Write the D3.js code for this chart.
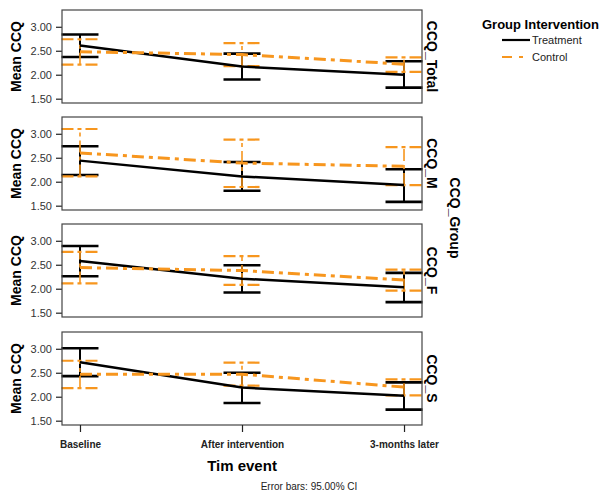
<!DOCTYPE html>
<html>
<head>
<meta charset="UTF-8">
<script src="https://cdn.jsdelivr.net/npm/d3@7.8.5/dist/d3.min.js"></script>
<style>
  body { margin: 0; background: #fff; }
  text { font-family: Arial, 'Liberation Sans', sans-serif; }
</style>
</head>
<body>
<svg id="chart" width="605" height="493"></svg>
<script>
// time points and facets
const times = ["Baseline", "After intervention", "3-months later"];
const facets = ["CCQ_Total", "CCQ_M", "CCQ_F", "CCQ_S"];
const groups = ["Treatment", "Control"];
const yTicks = [1.5, 2.0, 2.5, 3.0];

// means and 95% CI per facet (rows) and time (cols)
const treatMean = [[2.61, 2.17, 2.00], [2.44, 2.11, 1.93], [2.58, 2.21, 2.03], [2.72, 2.19, 2.02]];
const treatLow  = [[2.37, 1.90, 1.73], [2.14, 1.81, 1.58], [2.26, 1.92, 1.72], [2.43, 1.87, 1.73]];
const treatHigh = [[2.84, 2.44, 2.28], [2.74, 2.41, 2.26], [2.89, 2.49, 2.33], [3.01, 2.50, 2.30]];
const ctrlMean  = [[2.48, 2.42, 2.22], [2.60, 2.39, 2.32], [2.44, 2.38, 2.18], [2.47, 2.47, 2.20]];
const ctrlLow   = [[2.21, 2.18, 2.06], [2.11, 1.89, 1.93], [2.11, 2.08, 1.96], [2.18, 2.23, 2.03]];
const ctrlHigh  = [[2.74, 2.66, 2.36], [3.10, 2.88, 2.72], [2.77, 2.68, 2.40], [2.75, 2.71, 2.36]];

const svg = d3.select('#chart');
const left = 62, right = 422;
const panelTops = [10, 117, 224, 332];
const panelH = 93;

const x = d3.scalePoint().domain(times).range([left, right]).padding(0.111);

const styles = {
  Treatment: { color: '#000', width: 2.5, dash: null, barW: 2, barDash: null },
  Control: { color: '#f7961e', width: 3, dash: '12,5,4,5', barW: 1.6, barDash: '12,4,4,4' }
};
const capHalf = 18.5;

facets.forEach((f, i) => {
  const top = panelTops[i];
  const y = d3.scaleLinear().domain([1.41, 3.35]).range([top + panelH, top]);
  const g = svg.append('g');

  // y axis
  const ya = g.append('g').attr('transform', `translate(${left},0)`)
    .call(d3.axisLeft(y).tickValues(yTicks).tickFormat(d3.format('.2f')).tickSize(6));
  ya.select('.domain').remove();
  ya.selectAll('line').attr('stroke', '#222').attr('stroke-width', 1.2);
  ya.selectAll('text').attr('font-size', 11).attr('fill', '#333').attr('dx', -1);

  const series = [
    { name: 'Treatment', mean: treatMean[i], lo: treatLow[i], hi: treatHigh[i] },
    { name: 'Control', mean: ctrlMean[i], lo: ctrlLow[i], hi: ctrlHigh[i] }
  ];

  // error bars first (treatment beneath control)
  series.forEach(s => {
    const st = styles[s.name];
    times.forEach((t, j) => {
      const cx = x(t);
      const bar = g.append('g').attr('stroke', st.color).attr('stroke-width', st.barW)
        .attr('stroke-dasharray', st.barDash).attr('fill', 'none');
      bar.append('line').attr('x1', cx).attr('x2', cx).attr('y1', y(s.lo[j])).attr('y2', y(s.hi[j]));
      [s.lo[j], s.hi[j]].forEach(v => {
        bar.append('line').attr('x1', cx - capHalf).attr('x2', cx + capHalf)
          .attr('y1', y(v)).attr('y2', y(v)).attr('stroke-width', s.name === 'Treatment' ? 2.6 : 2.2);
      });
    });
  });

  const line = d3.line().x((d, j) => x(times[j])).y(d => y(d));
  series.forEach(s => {
    const st = styles[s.name];
    g.append('path').datum(s.mean).attr('d', line).attr('fill', 'none')
      .attr('stroke', st.color).attr('stroke-width', st.width).attr('stroke-dasharray', st.dash);
  });

  // frame
  g.append('rect').attr('x', left).attr('y', top).attr('width', right - left).attr('height', panelH)
    .attr('fill', 'none').attr('stroke', '#444').attr('stroke-width', 1.2);

  // left label
  g.append('text').attr('transform', `translate(21,${top + panelH / 2}) rotate(-90)`)
    .attr('text-anchor', 'middle').attr('font-size', 14).attr('font-weight', 'bold').text('Mean CCQ');

  // facet label on right
  g.append('text').attr('transform', `translate(427,${top + panelH / 2}) rotate(90)`)
    .attr('text-anchor', 'middle').attr('font-size', 14).attr('font-weight', 'bold').text(f);
});

// x axis under bottom panel
const xa = svg.append('g').attr('transform', `translate(0,${panelTops[3] + panelH})`)
  .call(d3.axisBottom(x).tickSize(7));
xa.select('.domain').remove();
xa.selectAll('line').attr('stroke', '#222').attr('stroke-width', 1.2);
xa.selectAll('text').attr('font-size', 10).attr('font-weight', 'bold').attr('fill', '#222').attr('dy', '1.3em');

svg.append('text').attr('x', 242).attr('y', 471).attr('text-anchor', 'middle')
  .attr('font-size', 15).attr('font-weight', 'bold').text('Tim event');
svg.append('text').attr('x', 309).attr('y', 490).attr('text-anchor', 'middle')
  .attr('font-size', 10).attr('fill', '#222').text('Error bars: 95.00% CI');

// outer facet title
svg.append('text').attr('transform', `translate(450,218) rotate(90)`)
  .attr('text-anchor', 'middle').attr('font-size', 14).attr('font-weight', 'bold').text('CCQ_Group');

// legend
const lg = svg.append('g');
lg.append('text').attr('x', 482).attr('y', 29).attr('font-size', 13).attr('font-weight', 'bold').text('Group Intervention');
groups.forEach((gname, k) => {
  const st = styles[gname];
  const ly = 40 + k * 17;
  lg.append('line').attr('x1', 502).attr('x2', 530).attr('y1', ly).attr('y2', ly)
    .attr('stroke', st.color).attr('stroke-width', 2.2).attr('stroke-dasharray', st.dash ? '10,7,4,7' : null);
  lg.append('text').attr('x', 532).attr('y', ly + 4).attr('font-size', 11).attr('fill', '#222').text(gname);
});
</script>
</body>
</html>
